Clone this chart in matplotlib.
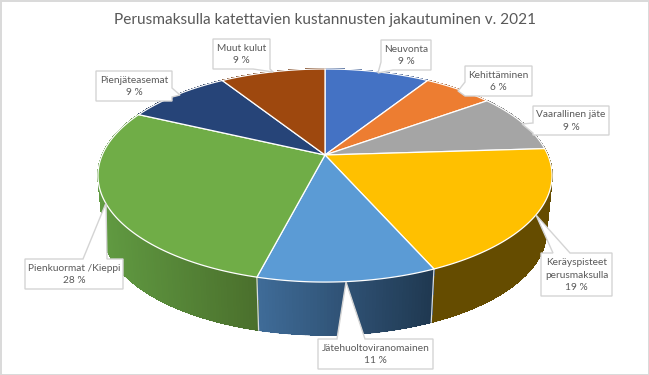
import numpy as np
import matplotlib
matplotlib.use("Agg")
import matplotlib.pyplot as plt
from matplotlib.colors import to_rgb
from matplotlib.collections import LineCollection

plt.rcParams['font.family'] = ['Lato', 'DejaVu Sans']

TITLE = "Perusmaksulla katettavien kustannusten jakautuminen v. 2021"
categories = ["Neuvonta", "Kehittäminen", "Vaarallinen jäte", "Keräyspisteet\nperusmaksulla",
              "Jätehuoltoviranomainen", "Pienkuormat /Kieppi", "Pienjäteasemat", "Muut kulut"]
values = [9, 6, 9, 19.4, 10.6, 28, 9, 9]
top_colors = ["#4472C4", "#ED7D31", "#A5A5A5", "#FFC000", "#5B9BD5", "#70AD47", "#264478", "#9E480E"]
side_left = ["#2f4f88", "#a55722", "#737373", "#654c00", "#3f6b98", "#619b42", "#1a2f54", "#6e3209"]
side_right = ["#2f4f88", "#a55722", "#737373", "#654c00", "#1f3850", "#4a6f2c", "#1a2f54", "#6e3209"]

# label boxes (left, top, right, bottom) and callout pointer (base a, tip, base b) in pixels
boxes = [(381, 40, 431, 70), (465, 66, 532, 96), (533, 106, 609, 135), (541, 253, 612, 296),
         (318, 339, 433, 369), (25, 259, 123, 289), (96, 71, 172, 101), (213, 39, 270, 69)]
pointers = [[(393, 70), (378, 73), (381, 62)], [(465, 82), (458, 91), (465, 96)],
            [(533, 123), (522, 124), (533, 133)], [(570, 253), (536, 215), (553, 253)],
            [(365, 339), (346, 282), (337, 339)], [(107, 259), (106, 203), (83, 259)],
            [(172, 88), (180, 95), (172, 97)], [(270, 69), (273, 72), (253, 69)]]

W, H = 649, 375
fig = plt.figure(figsize=(W / 100, H / 100), dpi=100, facecolor="white")
ax = fig.add_axes([0, 0, 1, 1])
ax.set_xlim(0, W)
ax.set_ylim(H, 0)
ax.axis("off")

CX, CY, A, B, P = 325, 155, 222.8, 102.6, 0.1925
DEPTH, SHRINK = 56, 0.975


def project(theta, lower=False):
    X, Y = np.sin(theta), np.cos(theta)
    w = 1 + P * Y
    x, y = A * X / w, -B * Y / w
    if lower:
        return CX + SHRINK * x, CY + DEPTH + SHRINK * y
    return CX + x, CY + y


fracs = np.asarray(values, float) / sum(values)
edges = np.concatenate([[0], np.cumsum(fracs)]) * 2 * np.pi

# side walls
for i in range(len(values)):
    th = np.linspace(edges[i], edges[i + 1], max(int(fracs[i] * 500), 4))
    xt, yt = project(th)
    xb, yb = project(th, True)
    lo, hi = xt.min(), xt.max()
    c0, c1 = np.array(to_rgb(side_left[i])), np.array(to_rgb(side_right[i]))
    segs, cols = [], []
    for k in range(len(th) - 1):
        t = ((xt[k] + xt[k + 1]) / 2 - lo) / (hi - lo)
        c = tuple(c0 + (c1 - c0) * t)
        ax.fill([xt[k], xt[k + 1], xb[k + 1], xb[k]], [yt[k], yt[k + 1], yb[k + 1], yb[k]],
                facecolor=c, edgecolor=c, lw=0.5, antialiased=False, zorder=2)
        segs.append([(xb[k], yb[k]), (xb[k + 1], yb[k + 1])])
        cols.append(c)
    ax.add_collection(LineCollection(segs, colors=cols, linewidths=1.0, capstyle="round", zorder=2.5))

# visible seams on the wall
for e in edges:
    if np.cos(e) < -0.5:
        xt, yt = project(e)
        xb, yb = project(e, True)
        ax.plot([xt, xb], [yt, yb], color="#d8dde0", lw=0.9, zorder=3)

# top face
for i in range(len(values)):
    th = np.linspace(edges[i], edges[i + 1], 100)
    x, y = project(th)
    ax.fill(np.r_[CX, x], np.r_[CY, y], facecolor=top_colors[i], edgecolor="white", lw=0.9,
            joinstyle="round", zorder=4)

# callouts
for name, frac, (l, t, r, b), (pa, tip, pb) in zip(categories, fracs, boxes, pointers):
    if pa[1] == b and pb[1] == b:        # pointer on bottom edge
        outline = [(l, t), (r, t), (r, b), pa, tip, pb, (l, b)]
    elif pa[1] == t and pb[1] == t:      # pointer on top edge
        outline = [(l, t), pb, tip, pa, (r, t), (r, b), (l, b)]
    elif pa[1] == b and pb[0] == l:      # pointer across the bottom-left corner
        outline = [(l, t), (r, t), (r, b), pa, tip, pb]
    elif pa[0] == l:                     # pointer on left edge
        outline = [(l, t), (r, t), (r, b), (l, b), pb, tip, pa]
    else:                                # pointer on right edge
        outline = [(l, t), (r, t), pa, tip, pb, (r, b), (l, b)]
    xs, ys = zip(*outline)
    ax.fill(xs, ys, facecolor="white", edgecolor="#d4d4d4", lw=1.0, zorder=6)
    ax.text((l + r) / 2, (t + b) / 2 + 0.5, f"{name}\n{round(frac * 100):.0f} %", ha="center", va="center",
            fontsize=7.3, color="#595959", linespacing=1.45, zorder=7)

ax.text(324.5, 20, TITLE, ha="center", va="center", fontsize=11.05, color="#595959", zorder=7)

# chart frame
ax.add_patch(plt.Rectangle((0.5, 0.5), W - 1, H - 1, fill=False, edgecolor="#d9d9d9", lw=1.4, zorder=8))

fig.savefig("out.png", dpi=100)
